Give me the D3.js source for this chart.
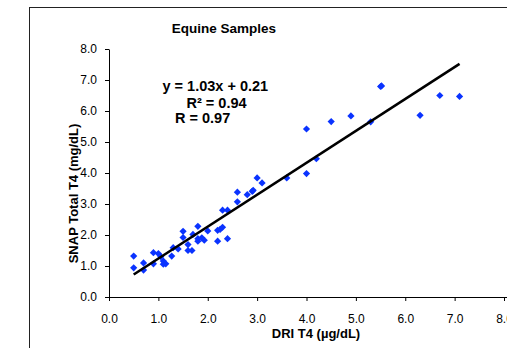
<!DOCTYPE html>
<html><head><meta charset="utf-8">
<script src="https://cdn.jsdelivr.net/npm/d3@7"></script>
<style>body{margin:0;background:#fff}svg{display:block}text{font-family:Arial,"Liberation Sans",sans-serif}</style>
</head><body><svg id="c" width="507" height="348"></svg>
<script>
const dri  = [0.5,0.5,0.7,0.7,0.9,0.9,1.0,1.05,1.1,1.1,1.15,1.27,1.3,1.4,1.5,1.5,1.6,1.6,1.68,1.7,1.8,1.8,1.8,1.88,1.93,2.0,2.2,2.2,2.25,2.3,2.3,2.4,2.4,2.6,2.6,2.8,2.9,2.92,3.0,3.1,3.6,4.0,4.0,4.2,4.5,4.9,5.3,5.5,5.52,6.3,6.7,7.1];
const snap = [1.32,0.94,1.10,0.87,1.43,1.07,1.40,1.30,1.16,1.06,1.07,1.32,1.59,1.55,2.12,1.92,1.69,1.50,1.50,2.02,2.28,1.88,1.80,1.91,1.83,2.13,2.15,1.80,2.18,2.25,2.80,2.80,1.88,3.38,3.07,3.30,3.41,3.44,3.84,3.68,3.84,5.42,3.98,4.46,5.66,5.84,5.65,6.79,6.81,5.86,6.50,6.47];
const slope = 1.03, intercept = 0.21;
const fitRange = [0.5, 7.1];
const xTicks = [0,1,2,3,4,5,6,7,8];
const yTicks = [0,1,2,3,4,5,6,7,8];
const title = "Equine Samples";
const xTitle = "DRI T4 (\u00b5g/dL)";
const yTitle = "SNAP Total T4 (mg/dL)";
const eqLines = ["y = 1.03x + 0.21", "R\u00b2 = 0.94", "R = 0.97"];

const svg = d3.select("#c");
svg.append("rect").attr("x",29.5).attr("y",7.5).attr("width",600).attr("height",600)
  .attr("fill","none").attr("stroke","#222").attr("stroke-width",1);

const x = d3.scaleLinear().domain([0,8]).range([109,504]);
const y = d3.scaleLinear().domain([0,8]).range([297,49]);

const xa = svg.append("g").attr("transform","translate(0,297)")
  .call(d3.axisBottom(x).tickValues(xTicks).tickFormat(d3.format(".1f")).tickSize(4).tickSizeOuter(0).tickPadding(13));
const ya = svg.append("g").attr("transform","translate(109,0)")
  .call(d3.axisLeft(y).tickValues(yTicks).tickFormat(d3.format(".1f")).tickSize(4).tickSizeOuter(0).tickPadding(8));
[xa,ya].forEach(g=>{
  g.selectAll("text").attr("font-size",12).attr("fill","#000").attr("font-family","Arial, 'Liberation Sans', sans-serif");
  g.selectAll("line,path").attr("stroke","#000");
});
xa.select(".domain").attr("d","M109.5,0.5H507");

svg.append("text").attr("x",224).attr("y",32.5).attr("text-anchor","middle")
  .attr("font-size",13.5).attr("font-weight","bold").text(title);
svg.append("text").attr("x",316).attr("y",337.5).attr("text-anchor","middle")
  .attr("font-size",13).attr("font-weight","bold").text(xTitle);
svg.append("text").attr("transform","translate(77.5,193.5) rotate(-90)").attr("text-anchor","middle")
  .attr("font-size",13).attr("font-weight","bold").text(yTitle);

const eqPos = [[162.5,91],[186.5,107.5],[175,123]];
eqLines.forEach((t,i)=>svg.append("text").attr("x",eqPos[i][0]).attr("y",eqPos[i][1])
  .attr("font-size",14.5).attr("font-weight","bold").text(t));

const pts = dri.map((d,i)=>[d,snap[i]]);
svg.append("g").selectAll("path").data(pts).join("path")
  .attr("transform",d=>`translate(${x(d[0])},${y(d[1])})`)
  .attr("d","M0,-3.6L3.6,0L0,3.6L-3.6,0Z").attr("fill","#0a33ff");

svg.append("line")
  .attr("x1",x(fitRange[0])).attr("y1",y(slope*fitRange[0]+intercept))
  .attr("x2",x(fitRange[1])).attr("y2",y(slope*fitRange[1]+intercept))
  .attr("stroke","#000").attr("stroke-width",2.6);
</script></body></html>
